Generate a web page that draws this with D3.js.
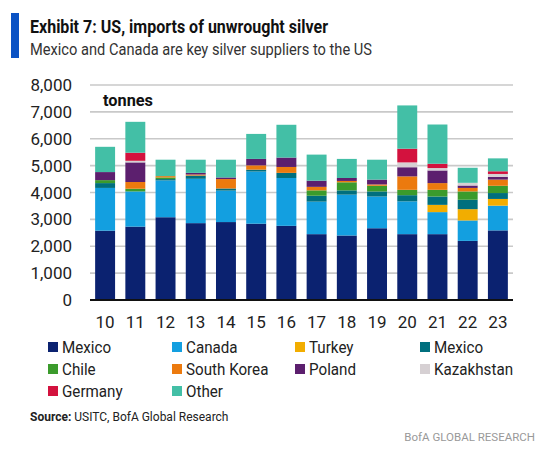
<!DOCTYPE html>
<html><head><meta charset="utf-8">
<script src="https://cdn.jsdelivr.net/npm/d3@7/dist/d3.min.js"></script>
<style>
html,body{margin:0;padding:0;background:#fff;}
svg{display:block;font-family:Roboto,"Open Sans",sans-serif;}
</style></head>
<body>
<svg id="chart" width="548" height="454"></svg>
<script>
const years = ["10","11","12","13","14","15","16","17","18","19","20","21","22","23"];
const seriesNames = ["Mexico","Canada","Turkey","Mexico","Chile","South Korea","Poland","Kazakhstan","Germany","Other"];
const seriesColors = ["#0b2270","#139fe0","#f2ad00","#006f7e","#3b9b2c","#ec7a0e","#5c1f6e","#d6d0d3","#d3123e","#43bfa6"];
const mexico     = [2580,2730,3080,2860,2900,2840,2760,2450,2400,2670,2450,2450,2200,2590];
const canada     = [1590,1310,1370,1650,1170,1940,1780,1210,1520,1180,1220, 820, 760, 920];
const turkey     = [   0,   0,   0,   0,   0,   0,   0,   0,   0,   0,   0, 270, 420, 250];
const mexico2    = [ 180,   0,  50, 120,  80,  70, 190, 220, 160, 190, 230, 310, 350, 220];
const chile      = [ 110, 100,  60,   0,   0,   0,   0, 200, 300, 210, 200, 250, 310, 270];
const southKorea = [   0, 250,  50,  40, 350, 160, 220, 130,  50,  50, 500, 250, 130, 230];
const poland     = [ 300, 730,   0,  60,  60, 240, 350, 230, 110, 180, 340, 470,  90, 100];
const kazakhstan = [   0,  60,   0,   0,   0,   0,   0,   0,   0,   0, 180,  90, 100, 110];
const germany    = [   0, 300,   0,   0,   0,   0,   0,   0,   0,   0, 510, 160,   0, 100];
const other      = [ 940,1150, 610, 490, 660, 930,1220, 970, 710, 740,1610,1460, 560, 480];
const yTicks = [0,1000,2000,3000,4000,5000,6000,7000,8000];

const seriesValues = [mexico,canada,turkey,mexico2,chile,southKorea,poland,kazakhstan,germany,other];
const keys = seriesValues.map((_,i)=>"s"+i);
const table = years.map((y,j)=>{const r={year:y};keys.forEach((k,i)=>r[k]=seriesValues[i][j]);return r;});

const svg = d3.select("#chart");
function fit(sel, w){ sel.each(function(){ const L=this.getComputedTextLength(); if(Math.abs(L-w)>1){ d3.select(this).attr("textLength",w).attr("lengthAdjust","spacingAndGlyphs"); } }); return sel; }
function squeeze(sel, f){ sel.each(function(){ const L=this.getComputedTextLength(); d3.select(this).attr("textLength",L*f).attr("lengthAdjust","spacingAndGlyphs"); }); return sel; }

// header
svg.append("rect").attr("x",11).attr("y",13).attr("width",8).attr("height",45).attr("fill","#0a52c4");
fit(svg.append("text").attr("x",30).attr("y",33).attr("font-size",17.5).attr("font-weight",700).attr("fill","#111")
  .text("Exhibit 7: US, imports of unwrought silver"),298);
fit(svg.append("text").attr("x",30).attr("y",55).attr("font-size",16.5).attr("fill","#333")
  .text("Mexico and Canada are key silver suppliers to the US"),342);

const x = d3.scaleBand().domain(years).range([90,513]).paddingInner(0.34).paddingOuter(0.17);
const y = d3.scaleLinear().domain([0,8000]).range([300,85]);

// gridlines
svg.append("g").selectAll("line").data(yTicks.filter(d=>d>0)).join("line")
  .attr("x1",90).attr("x2",513).attr("y1",d=>y(d)).attr("y2",d=>y(d))
  .attr("stroke","#c9c9c9").attr("stroke-width",1.6);

// y labels
const fmt = d3.format(",");
svg.append("g").selectAll("text").data(yTicks).join("text")
  .attr("x",72).attr("y",d=>y(d)).attr("dy","0.36em").attr("text-anchor","end")
  .attr("font-size",17).attr("fill","#222").text(d=>fmt(d));

// bars
const stack = d3.stack().keys(keys)(table);
svg.append("g").selectAll("g").data(stack).join("g")
  .attr("fill",(d,i)=>seriesColors[i])
  .selectAll("rect").data(d=>d).join("rect")
  .attr("x",d=>x(d.data.year)).attr("width",x.bandwidth())
  .attr("y",d=>y(d[1])).attr("height",d=>Math.max(0,y(d[0])-y(d[1])));

// baseline
svg.append("line").attr("x1",90).attr("x2",513).attr("y1",y(0)).attr("y2",y(0))
  .attr("stroke","#111").attr("stroke-width",2);

// x labels
svg.append("g").selectAll("text").data(years).join("text")
  .attr("x",d=>x(d)+x.bandwidth()/2).attr("y",328).attr("text-anchor","middle")
  .attr("font-size",17).attr("fill","#222").text(d=>d);

// tonnes
fit(svg.append("text").attr("x",103).attr("y",106).attr("font-size",17).attr("font-weight",700).attr("fill","#111").text("tonnes"),50);

// legend
const legX = [48,172,295,420];
const legY = [347,369,391];
const leg = svg.append("g").selectAll("g").data(seriesNames).join("g")
  .attr("transform",(d,i)=>`translate(${legX[i%4]},${legY[Math.floor(i/4)]})`);
leg.append("rect").attr("x",0).attr("y",-5).attr("width",10).attr("height",10).attr("fill",(d,i)=>seriesColors[i]);
squeeze(leg.append("text").attr("x",14).attr("y",0).attr("dy","0.36em").attr("font-size",16.5).attr("fill","#222").text(d=>d),0.92);

// source
const src = svg.append("text").attr("x",30).attr("y",421).attr("font-size",12).attr("fill","#222");
src.append("tspan").attr("font-weight",700).text("Source:");
src.append("tspan").text(" USITC, BofA Global Research");

svg.append("text").attr("x",535).attr("y",441).attr("text-anchor","end").attr("font-size",11.5).attr("fill","#999")
  .text("BofA GLOBAL RESEARCH");
</script>
</body></html>
